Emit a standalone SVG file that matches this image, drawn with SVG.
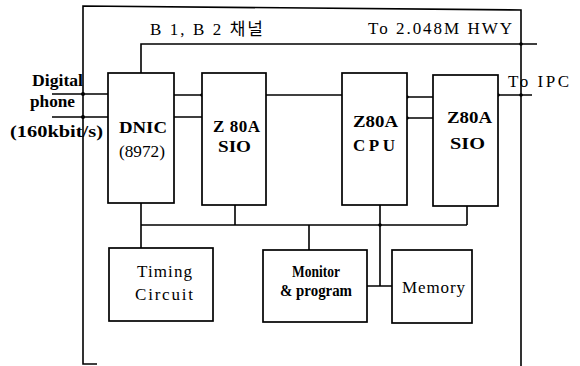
<svg xmlns="http://www.w3.org/2000/svg" width="580" height="366" viewBox="0 0 580 366">
<style>
.b{fill:#fff;stroke:#000;stroke-width:1.7}
.w{fill:none;stroke:#000;stroke-width:1.6}
text{font-family:"Liberation Serif","Noto Sans CJK KR",serif;font-size:17px;fill:#000;font-weight:bold}
.n{font-weight:normal}
</style>
<rect width="580" height="366" fill="#fff"/>
<g id="connectors">
<path class="w" d="M97,364 H83 V6 L521,10 V366"/>
<path class="w" d="M141,73 V44 H537"/>
<path class="w" d="M52,94 H108 M52,117 H108"/>
<path class="w" d="M174,95 H202 M174,117 H202"/>
<path class="w" d="M266,95 H342"/>
<path class="w" d="M407,97 H433 M407,118 H433"/>
<path class="w" d="M498,95 H532"/>
<path class="w" d="M141,203 V248 M141,225 H467 M235,205 V225 M309,225 V250 M380,205 V286 M367,286 H392 M467,206 V225"/>
<g fill="#000">
<circle cx="83" cy="94" r="2"/>
<circle cx="83" cy="117" r="2"/>
<circle cx="202" cy="95" r="1.8"/>
<circle cx="407" cy="97" r="1.8"/>
<circle cx="407" cy="118" r="1.8"/>
<circle cx="498" cy="95" r="1.8"/>
<circle cx="521" cy="95" r="1.8"/>
<circle cx="521" cy="44" r="1.8"/>
<circle cx="380" cy="225" r="1.8"/>
</g>
</g>
<g id="labels">
<text class="n" x="150" y="35" textLength="113" lengthAdjust="spacing">B 1, B 2 채널</text>
<text class="n" x="368" y="34" textLength="144" lengthAdjust="spacing">To 2.048M HWY</text>
<text class="n" x="508" y="87" textLength="61" lengthAdjust="spacing">To IPC</text>
<text x="32" y="86" font-size="16" textLength="51" lengthAdjust="spacingAndGlyphs">Digital</text>
<text x="30" y="107" font-size="16" textLength="45" lengthAdjust="spacingAndGlyphs">phone</text>
<text x="10" y="137" font-size="16" textLength="93" lengthAdjust="spacingAndGlyphs">(160kbit/s)</text>
</g>
<g id="dnic">
<rect class="b" x="108" y="73" width="66" height="130"/>
<text x="119" y="133" textLength="48" lengthAdjust="spacingAndGlyphs">DNIC</text>
<text class="n" x="119" y="157" textLength="46" lengthAdjust="spacingAndGlyphs">(8972)</text>
</g>
<g id="sio1">
<rect class="b" x="202" y="73" width="64" height="132"/>
<text x="213" y="132" textLength="47" lengthAdjust="spacing">Z 80A</text>
<text x="218" y="152" textLength="33" lengthAdjust="spacingAndGlyphs">SIO</text>
</g>
<g id="cpu">
<rect class="b" x="342" y="73" width="65" height="132"/>
<text x="353" y="127" textLength="45" lengthAdjust="spacingAndGlyphs">Z80A</text>
<text x="353" y="151" textLength="42" lengthAdjust="spacing">CPU</text>
</g>
<g id="sio2">
<rect class="b" x="433" y="75" width="65" height="131"/>
<text x="447" y="123" textLength="45" lengthAdjust="spacingAndGlyphs">Z80A</text>
<text x="450" y="149" textLength="35" lengthAdjust="spacingAndGlyphs">SIO</text>
</g>
<g id="timing">
<rect class="b" x="109" y="248" width="104" height="73"/>
<text class="n" x="137" y="277" textLength="55" lengthAdjust="spacing">Timing</text>
<text class="n" x="135" y="300" textLength="58" lengthAdjust="spacing">Circuit</text>
</g>
<g id="monitor">
<rect class="b" x="263" y="250" width="104" height="72"/>
<text x="292" y="277" font-size="14" textLength="48" lengthAdjust="spacingAndGlyphs">Monitor</text>
<text x="280" y="296" font-size="14" textLength="72" lengthAdjust="spacingAndGlyphs">&amp; program</text>
</g>
<g id="memory">
<rect class="b" x="392" y="250" width="80" height="73"/>
<text class="n" x="402" y="293" textLength="63" lengthAdjust="spacing">Memory</text>
</g>
</svg>
